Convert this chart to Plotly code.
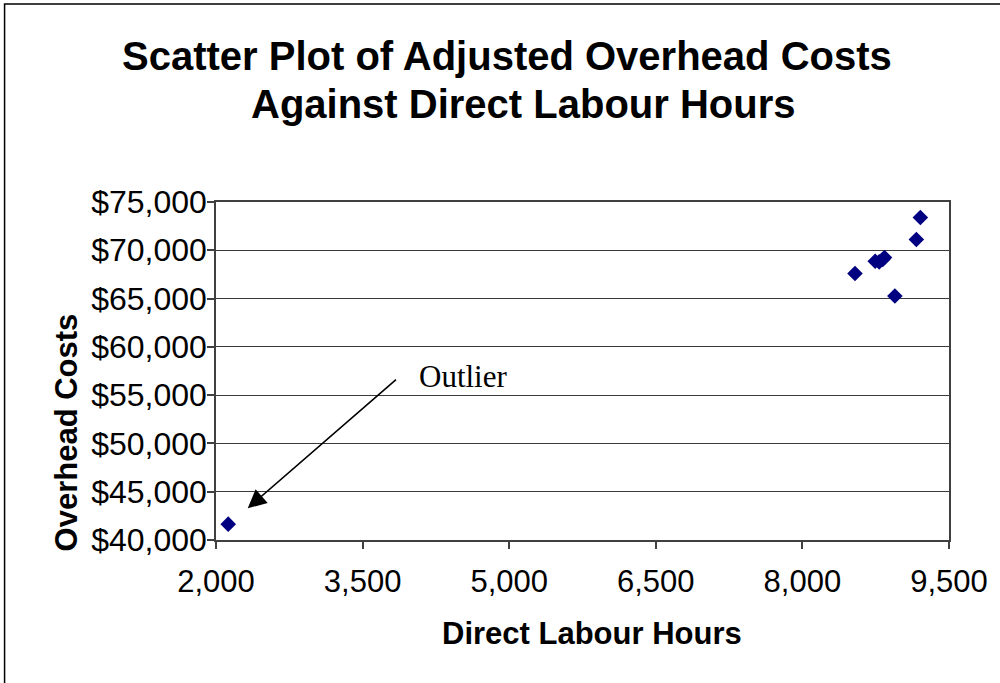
import plotly.graph_objects as go

# Data
labour_hours = [2125, 8538, 8745, 8786, 8822, 8840, 8946, 9166, 9207]
overhead_costs = [41640, 67590, 68860, 68800, 69050, 69250, 65270, 71110, 73390]

x_ticks = [2000, 3500, 5000, 6500, 8000, 9500]
x_tick_labels = ["2,000", "3,500", "5,000", "6,500", "8,000", "9,500"]
y_ticks = [40000, 45000, 50000, 55000, 60000, 65000, 70000, 75000]
y_tick_labels = ["$40,000", "$45,000", "$50,000", "$55,000", "$60,000", "$65,000", "$70,000", "$75,000"]

title_lines = ["Scatter Plot of Adjusted Overhead Costs", "Against Direct Labour Hours"]
x_title = "Direct Labour Hours"
y_title = "Overhead Costs"
outlier_label = "Outlier"
outlier_arrow_tail = (3857, 56750)
outlier_text_pos = (4061, 56950)

SANS = "Liberation Sans, Arial, sans-serif"
SERIF = "Liberation Serif, Times New Roman, serif"

fig = go.Figure()
fig.add_trace(go.Scatter(
    x=labour_hours, y=overhead_costs, mode="markers",
    marker=dict(symbol="diamond", size=12, color="#000080", line=dict(width=0)),
    showlegend=False, hoverinfo="x+y",
))

L, R, T, B = 216, 49, 202, 143
W, H = 1000, 683
pw = W - L - R
ph = H - T - B

def px2paper_x(px):
    return (px - L) / pw

def px2paper_y(py):
    return (H - B - py) / ph

annotations = [
    dict(text=f"<b>{title_lines[0]}</b>", x=px2paper_x(508), y=px2paper_y(56),
         xref="paper", yref="paper", xanchor="center", yanchor="middle",
         showarrow=False, font=dict(family=SANS, size=40, color="black")),
    dict(text=f"<b>{title_lines[1]}</b>", x=px2paper_x(524), y=px2paper_y(104),
         xref="paper", yref="paper", xanchor="center", yanchor="middle",
         showarrow=False, font=dict(family=SANS, size=40, color="black")),
    dict(text=f"<b>{x_title}</b>", x=px2paper_x(593), y=px2paper_y(633),
         xref="paper", yref="paper", xanchor="center", yanchor="middle",
         showarrow=False, font=dict(family=SANS, size=31, color="black")),
    dict(text=f"<b>{y_title}</b>", x=px2paper_x(66), y=px2paper_y(432),
         xref="paper", yref="paper", xanchor="center", yanchor="middle",
         textangle=-90, showarrow=False, font=dict(family=SANS, size=31, color="black")),
    dict(text=outlier_label, x=outlier_text_pos[0], y=outlier_text_pos[1],
         xref="x", yref="y", xanchor="left", yanchor="middle",
         showarrow=False, font=dict(family=SERIF, size=31, color="black")),
    dict(text="", x=labour_hours[0] + 200, y=overhead_costs[0] + 1650,
         ax=outlier_arrow_tail[0], ay=outlier_arrow_tail[1],
         xref="x", yref="y", axref="x", ayref="y",
         showarrow=True, arrowhead=2, arrowsize=2.3, arrowwidth=1.6, arrowcolor="black"),
]

fig.update_layout(
    width=W, height=H,
    margin=dict(l=L, r=R, t=T, b=B, pad=0),
    paper_bgcolor="white", plot_bgcolor="white",
    annotations=annotations,
    shapes=[dict(type="rect", xref="paper", yref="paper",
                 x0=px2paper_x(4), x1=px2paper_x(1010),
                 y0=px2paper_y(700), y1=px2paper_y(4),
                 line=dict(color="black", width=1.5), fillcolor="rgba(0,0,0,0)", layer="below")],
)

fig.update_xaxes(
    range=[2000, 9500], tickvals=x_ticks, ticktext=x_tick_labels,
    showgrid=False, zeroline=False,
    showline=True, linecolor="#404040", linewidth=1.5, mirror=True,
    ticks="outside", ticklen=7, tickcolor="#404040", tickwidth=1.5,
    ticklabelstandoff=6,
    tickfont=dict(family=SANS, size=31, color="black"),
)
fig.update_yaxes(
    range=[40000, 75000], tickvals=y_ticks, ticktext=y_tick_labels,
    showgrid=True, gridcolor="#3a3a3a", gridwidth=1.3, zeroline=False,
    showline=True, linecolor="#404040", linewidth=1.5, mirror=True,
    ticks="outside", ticklen=7, tickcolor="#404040", tickwidth=1.5,
    ticklabelstandoff=-6,
    tickfont=dict(family=SANS, size=32, color="black"),
)

fig.write_html("out.html", config={"displayModeBar": False},
               post_script="document.body.style.margin='0';document.body.style.overflow='hidden';")
